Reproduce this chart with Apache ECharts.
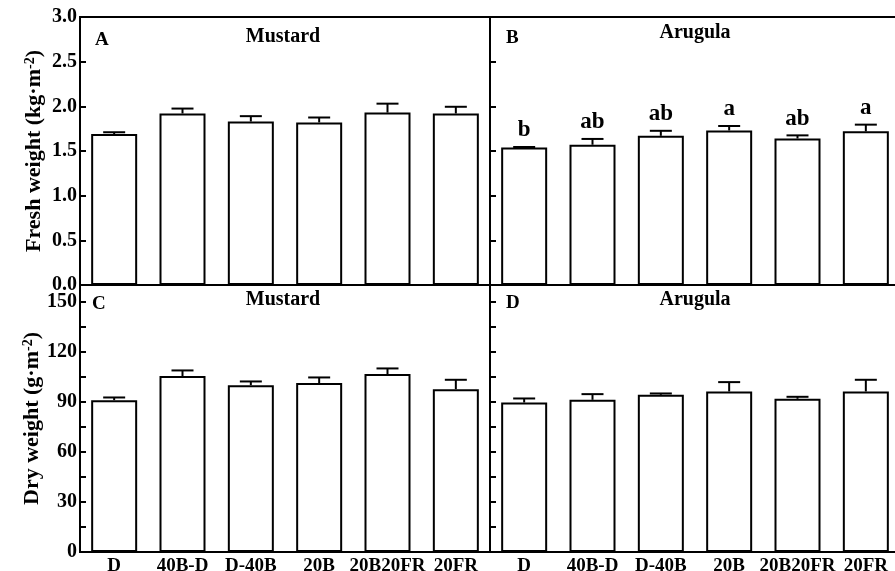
<!DOCTYPE html>
<html><head><meta charset="utf-8">
<script src="https://cdn.jsdelivr.net/npm/echarts@6/dist/echarts.min.js"></script>
<style>html,body{margin:0;padding:0;background:#fff}#c{width:895px;height:571px}</style>
</head><body><div id="c"></div>
<script>
const categories = ['D', '40B-D', 'D-40B', '20B', '20B20FR', '20FR'];
const mustardFresh = [1.69, 1.92, 1.83, 1.82, 1.93, 1.92];
const mustardFreshErr = [0.02, 0.055, 0.06, 0.055, 0.10, 0.075];
const arugulaFresh = [1.54, 1.57, 1.67, 1.73, 1.64, 1.72];
const arugulaFreshErr = [0.005, 0.065, 0.056, 0.05, 0.035, 0.075];
const arugulaFreshLetters = ['b', 'ab', 'ab', 'a', 'ab', 'a'];
const mustardDry = [91.0, 105.4, 100.0, 101.2, 106.6, 97.6];
const mustardDryErr = [1.6, 3.4, 2.2, 3.4, 3.4, 5.6];
const arugulaDry = [89.6, 91.2, 94.2, 96.2, 91.8, 96.2];
const arugulaDryErr = [2.4, 3.4, 0.8, 5.6, 1.2, 7.0];
const panelLetters = ['A', 'B', 'C', 'D'];
const panelTitles = ['Mustard', 'Arugula', 'Mustard', 'Arugula'];

const FF = '"Liberation Serif", "Times New Roman", serif';
const chart = echarts.init(document.getElementById('c'));

const grids = [
  {left: 80, top: 17, width: 410, height: 268},
  {left: 490, top: 17, width: 410, height: 268},
  {left: 80, top: 285, width: 410, height: 267},
  {left: 490, top: 285, width: 410, height: 267}
].map(g => Object.assign(g, {show: true, borderColor: '#000', borderWidth: 2, backgroundColor: '#fff',
  containLabel: false, outerBoundsMode: 'none'}));

const xAxes = [0, 1, 2, 3].map(k => ({
  gridIndex: k, type: 'category', data: categories,
  axisLine: {show: true, lineStyle: {color: '#000', width: 2}},
  axisTick: {show: true, inside: true, length: 5, alignWithLabel: true, lineStyle: {color: '#000', width: 2}},
  axisLabel: {show: k >= 2, interval: 0, hideOverlap: false, color: '#000', fontSize: 19, fontWeight: 'bold', fontFamily: FF, margin: 5},
  splitLine: {show: false}
}));

function yAxis(k, isFresh, showLabel, name) {
  const a = {
    gridIndex: k, type: 'value', min: 0,
    max: isFresh ? 3 : 160, interval: isFresh ? 0.5 : 15,
    axisLine: {show: true, lineStyle: {color: '#000', width: 2}},
    axisTick: {show: true, inside: true, length: 6, lineStyle: {color: '#000', width: 2}},
    axisLabel: {
      show: showLabel, color: '#000', fontSize: 20, fontWeight: 'bold', fontFamily: FF, margin: 3,
      hideOverlap: false,
      formatter: isFresh ? (v => v.toFixed(1)) : (v => (v % 30 === 0 && v <= 150) ? String(v) : '')
    },
    splitLine: {show: false}
  };
  if (name) {
    Object.assign(a, {
      name: name, nameLocation: 'middle', nameRotate: 90, nameGap: 35,
      nameTextStyle: {color: '#000', fontSize: 22, fontWeight: 'bold', fontFamily: FF,
        rich: {s: {fontSize: 14, fontWeight: 'bold', fontFamily: FF, color: '#000', verticalAlign: 'top'}}}
    });
  }
  return a;
}
const yAxes = [
  yAxis(0, true, true, 'Fresh weight (kg·m{s|-2})'),
  yAxis(1, true, false, null),
  yAxis(2, false, true, 'Dry weight (g·m{s|-2})'),
  yAxis(3, false, false, null)
];

function barSeries(k, vals) {
  return {type: 'bar', xAxisIndex: k, yAxisIndex: k, data: vals, barWidth: 46,
    itemStyle: {color: '#fff', borderColor: '#000', borderWidth: 2}, silent: true};
}
function errSeries(k, vals, errs, letters) {
  return {
    type: 'custom', xAxisIndex: k, yAxisIndex: k, silent: true, z: 5,
    data: vals.map((v, i) => [i, v, errs[i]]),
    renderItem: function (params, api) {
      const i = api.value(0), v = api.value(1), e = api.value(2);
      const base = api.coord([i, v]);
      const top = api.coord([i, v + e]);
      const half = 11;
      const children = [
        {type: 'line', shape: {x1: base[0], y1: base[1], x2: top[0], y2: top[1]}, style: {stroke: '#000', lineWidth: 2}},
        {type: 'line', shape: {x1: top[0] - half, y1: top[1], x2: top[0] + half, y2: top[1]}, style: {stroke: '#000', lineWidth: 2}}
      ];
      if (letters) {
        children.push({type: 'text', style: {text: letters[i], x: top[0], y: top[1] - 5,
          align: 'center', verticalAlign: 'bottom', fontSize: 23, fontWeight: 'bold', fontFamily: FF, fill: '#000'}});
      }
      return {type: 'group', children: children};
    }
  };
}

const letterPos = [[95, 31], [506, 29], [92, 295], [506, 294]];
const titlePos = [[283, 27], [695, 23], [283, 290], [695, 290]];
const graphics = [];
for (let k = 0; k < 4; k++) {
  graphics.push({type: 'text', x: letterPos[k][0], y: letterPos[k][1], z: 100,
    style: {text: panelLetters[k], fontSize: 19, fontWeight: 'bold', fontFamily: FF, fill: '#000'}});
  graphics.push({type: 'text', x: titlePos[k][0], y: titlePos[k][1], z: 100,
    style: {text: panelTitles[k], align: 'center', fontSize: 20, fontWeight: 'bold', fontFamily: FF, fill: '#000'}});
}

chart.setOption({
  backgroundColor: '#fff',
  animation: false,
  grid: grids,
  xAxis: xAxes,
  yAxis: yAxes,
  series: [
    barSeries(0, mustardFresh), errSeries(0, mustardFresh, mustardFreshErr, null),
    barSeries(1, arugulaFresh), errSeries(1, arugulaFresh, arugulaFreshErr, arugulaFreshLetters),
    barSeries(2, mustardDry), errSeries(2, mustardDry, mustardDryErr, null),
    barSeries(3, arugulaDry), errSeries(3, arugulaDry, arugulaDryErr, null)
  ],
  graphic: graphics
});
</script>
</body></html>
